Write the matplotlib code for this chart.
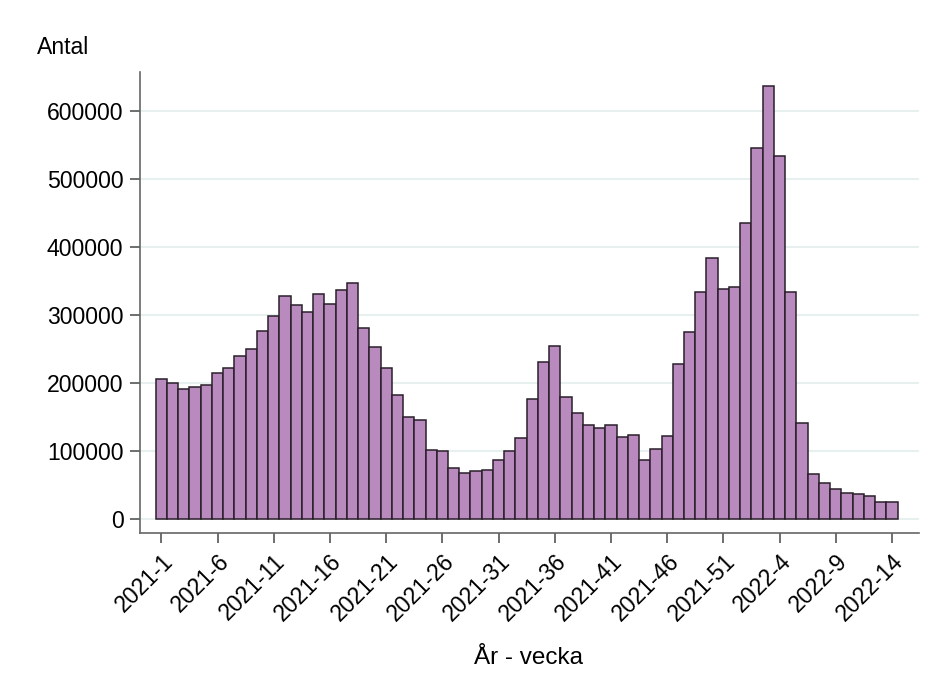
import matplotlib.pyplot as plt
import numpy as np

# veckodata, antal (tusental)
weeks_2021 = list(range(1, 53))
weeks_2022 = list(range(1, 15))
antal_2021 = [206, 201, 191, 194, 198, 215, 222, 240, 251, 277,
              299, 328, 315, 305, 331, 317, 337, 348, 281, 253,
              222, 183, 150, 146, 102, 101, 76, 68, 71, 73,
              87, 100, 119, 177, 231, 255, 180, 156, 138, 134,
              138, 121, 124, 87, 103, 122, 228, 275, 334, 384,
              338, 341]
antal_2022 = [435, 546, 637, 534, 334, 142, 66, 54, 44, 39, 37, 34, 26, 25]

labels = [f'2021-{w}' for w in weeks_2021] + [f'2022-{w}' for w in weeks_2022]
values = np.array(antal_2021 + antal_2022) * 1000
y_ticks = [0, 100000, 200000, 300000, 400000, 500000, 600000]

plt.rcParams['font.family'] = ['Liberation Sans', 'DejaVu Sans']

fig = plt.figure(figsize=(9.25, 6.75), dpi=100)
ax = fig.add_axes([0.1514, 0.2104, 0.842, 0.6834])

x = np.arange(len(values))
ax.bar(x, values, width=1.0, color='#b98abe', edgecolor='#2a1f2a', linewidth=1.1, zorder=3)

ax.set_xlim(-1.9, 67.4)
ax.set_ylim(-20000, 658000)

ax.set_yticks(y_ticks)
ax.set_yticklabels([str(v) for v in y_ticks])
ax.set_xticks(x[::5])
ax.set_xticklabels(labels[::5], rotation=45, ha='right', rotation_mode='anchor')

ax.grid(axis='y', color='#e7efef', linewidth=1.5, zorder=0)
for s in ['top', 'right']:
    ax.spines[s].set_visible(False)
for s in ['left', 'bottom']:
    ax.spines[s].set_color('#666666')
    ax.spines[s].set_linewidth(1.2)
ax.tick_params(axis='both', labelsize=16.6, length=7, width=1.2, color='#555555', pad=5)

fig.text(37 / 925, 1 - 47 / 675, 'Antal', fontsize=16.6, ha='left', va='center')
fig.text(529 / 925, 1 - 658 / 675, 'År - vecka', fontsize=17.5, ha='center', va='center')

fig.savefig('out.png', dpi=100)
